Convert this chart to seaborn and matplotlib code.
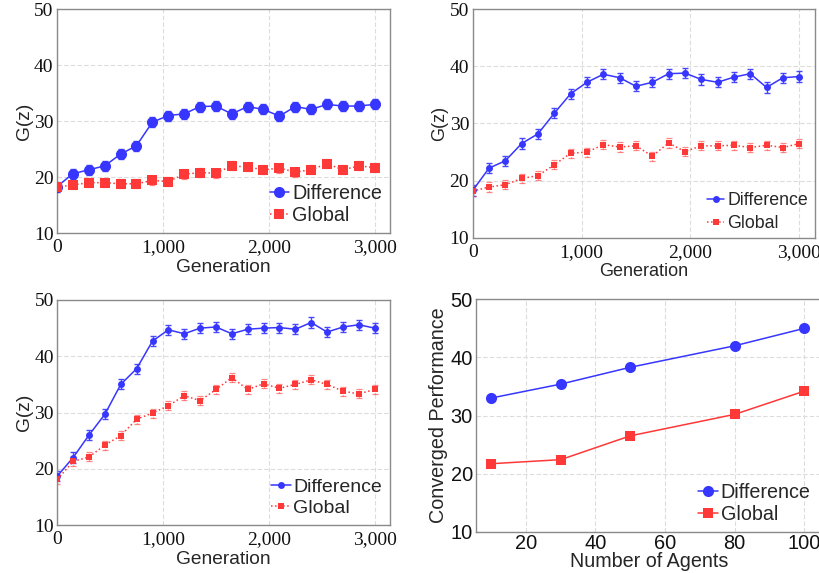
import numpy as np
import pandas as pd
import seaborn as sns
import matplotlib
matplotlib.use("Agg")
import matplotlib.pyplot as plt

# ---------------- data ----------------
generations = [0, 150, 300, 450, 600, 750, 900, 1050, 1200, 1350, 1500,
               1650, 1800, 1950, 2100, 2250, 2400, 2550, 2700, 2850, 3000]

p1_diff = [18.3, 20.6, 21.3, 22.0, 24.1, 25.6, 29.8, 31.0, 31.3, 32.6, 32.7,
           31.3, 32.6, 32.1, 30.9, 32.6, 32.1, 33.0, 32.7, 32.7, 33.0]
p1_glob = [18.2, 18.6, 19.0, 19.0, 18.8, 18.8, 19.4, 19.2, 20.5, 20.8, 20.7,
           22.0, 21.8, 21.3, 21.6, 20.9, 21.3, 22.4, 21.3, 22.0, 21.7]

p2_diff = [18.3, 22.2, 23.5, 26.5, 28.2, 31.8, 35.2, 37.2, 38.6, 38.0, 36.5,
           37.2, 38.7, 38.8, 37.7, 37.2, 38.1, 38.7, 36.3, 38.0, 38.2]
p2_glob = [18.2, 18.9, 19.3, 20.4, 20.9, 22.8, 24.8, 25.0, 26.3, 25.9, 26.1,
           24.3, 26.6, 25.1, 26.1, 26.1, 26.2, 25.8, 26.2, 25.8, 26.5]

p3_diff = [18.7, 22.0, 26.0, 29.7, 35.0, 37.8, 42.7, 44.7, 44.0, 45.0, 45.2,
           44.0, 44.8, 45.0, 45.1, 44.8, 46.0, 44.3, 45.2, 45.6, 45.0]
p3_glob = [18.1, 21.3, 22.1, 24.2, 25.9, 28.8, 29.9, 31.2, 33.0, 32.1, 34.1,
           36.2, 34.1, 35.1, 34.3, 35.0, 35.8, 35.0, 33.8, 33.3, 34.1]

err_diff = [0.9] * len(generations)
err_glob = [0.8] * len(generations)

agents = [10, 30, 50, 80, 100]
conv_diff = [33.0, 35.4, 38.3, 42.0, 45.0]
conv_glob = [21.7, 22.4, 26.5, 30.2, 34.2]

series_names = ["Difference", "Global"]
x_ticks_gen = [0, 1000, 2000, 3000]
x_ticklabels_gen = ["0", "1,000", "2,000", "3,000"]
y_ticks = [10, 20, 30, 40, 50]
agent_ticks = [20, 40, 60, 80, 100]

# ---------------- style ----------------
sns.set_theme(style="white")
plt.rcParams["font.family"] = ["Liberation Sans", "DejaVu Sans"]

BLUE = "#3636ff"
RED = "#ff3838"
SPINE = "#8a8a8a"
GRID = "#dcdcdc"

fig = plt.figure(figsize=(8.2, 5.73), dpi=100)

W, H = 820.0, 573.0
def rect(l, t, r, b):
    return [l / W, 1 - b / H, (r - l) / W, (b - t) / H]

ax1 = fig.add_axes(rect(57, 9.3, 390, 233))
ax2 = fig.add_axes(rect(472.7, 9, 815, 238))
ax3 = fig.add_axes(rect(57.3, 300, 390, 525))
ax4 = fig.add_axes(rect(475.7, 299.3, 823.5, 531.7))

tick_fonts = {}


def style_axes(ax, serif_ticks=True, tick_size=14.0, xpad=4.5, ypad=2.5):
    for s in ax.spines.values():
        s.set_color(SPINE)
        s.set_linewidth(1.0)
    ax.grid(True, color=GRID, linestyle=(0, (4, 2)), linewidth=0.8)
    ax.set_axisbelow(True)
    ax.tick_params(axis="both", length=0, labelsize=tick_size,
                   labelcolor="#111111")
    ax.tick_params(axis="x", pad=xpad)
    ax.tick_params(axis="y", pad=ypad)
    fam = "Liberation Serif" if serif_ticks else "Liberation Sans"
    tick_fonts[ax] = (fam, tick_size)


def gen_panel(ax, diff, glob, big, label_size, legend_size, legend_anchor,
              spacing, xlabelpad):
    ms_d = 8 if big else 5
    ms_g = 7 if big else 5
    df = pd.DataFrame({
        "Generation": generations * 2,
        "G": diff + glob,
        "Series": [series_names[0]] * len(diff) + [series_names[1]] * len(glob),
    })
    ax.errorbar(generations, diff, yerr=err_diff, fmt="none", ecolor=BLUE,
                elinewidth=1.0, capsize=2.5, capthick=1.0, alpha=0.9, zorder=2)
    eb = ax.errorbar(generations, glob, yerr=err_glob, fmt="none", ecolor=RED,
                     elinewidth=0.9, capsize=2, capthick=0.9, alpha=0.6, zorder=2)
    for c in eb[2]:
        c.set_linestyle(":")
    sns.lineplot(data=df[df.Series == "Difference"], x="Generation", y="G",
                 ax=ax, color=BLUE, marker="o", markersize=ms_d,
                 markeredgewidth=0, linewidth=1.1, label="Difference", zorder=3)
    sns.lineplot(data=df[df.Series == "Global"], x="Generation", y="G",
                 ax=ax, color=RED, marker="s", markersize=ms_g,
                 markeredgewidth=0, linewidth=1.1, linestyle=":",
                 label="Global", zorder=3)
    ax.set_xlim(0, 3145)
    ax.set_ylim(10, 50)
    ax.set_xticks(x_ticks_gen)
    ax.set_xticklabels(x_ticklabels_gen)
    ax.set_yticks(y_ticks)
    ax.set_xlabel("Generation", fontsize=label_size, labelpad=xlabelpad)
    ax.set_ylabel("G(z)", fontsize=label_size, labelpad=1)
    style_axes(ax)
    ax.legend(loc="lower right", bbox_to_anchor=legend_anchor,
              frameon=False, fontsize=legend_size, handlelength=1.0,
              handletextpad=0.15, labelspacing=spacing, borderpad=0.2,
              borderaxespad=0.2)


gen_panel(ax1, p1_diff, p1_glob, True, 13.8, 14.2, (1.0, 0.0), 0.15, 2)
gen_panel(ax2, p2_diff, p2_glob, False, 13.0, 12.8, (1.0, -0.005), 0.35, 1)
gen_panel(ax3, p3_diff, p3_glob, False, 13.8, 14.0, (1.0, 0.0), 0.2, 2)

# panel 4
df4 = pd.DataFrame({
    "Agents": agents * 2,
    "Perf": conv_diff + conv_glob,
    "Series": [series_names[0]] * len(agents) + [series_names[1]] * len(agents),
})
sns.lineplot(data=df4[df4.Series == "Difference"], x="Agents", y="Perf", ax=ax4,
             color=BLUE, marker="o", markersize=8, markeredgewidth=0,
             linewidth=1.1, label="Difference")
sns.lineplot(data=df4[df4.Series == "Global"], x="Agents", y="Perf", ax=ax4,
             color=RED, marker="s", markersize=7, markeredgewidth=0,
             linewidth=1.1, label="Global")
ax4.set_xlim(5.6, 105.5)
ax4.set_ylim(10, 50)
ax4.set_xticks(agent_ticks)
ax4.set_yticks(y_ticks)
ax4.set_xlabel("Number of Agents", fontsize=14.2, labelpad=-1)
ax4.set_ylabel("Converged Performance", fontsize=14.2, labelpad=2)
style_axes(ax4, serif_ticks=False, tick_size=14.4, xpad=2, ypad=2)
ax4.legend(loc="lower right", bbox_to_anchor=(0.985, 0.0), frameon=False,
           fontsize=14.2, handlelength=1.0, handletextpad=0.15,
           labelspacing=0.15, borderpad=0.2, borderaxespad=0.2)

# apply tick label fonts after ticks exist
fig.canvas.draw()
for ax, (fam, size) in tick_fonts.items():
    for lab in ax.get_xticklabels() + ax.get_yticklabels():
        lab.set_fontfamily(fam)
        lab.set_fontsize(size)

fig.savefig("out.png", dpi=100)
